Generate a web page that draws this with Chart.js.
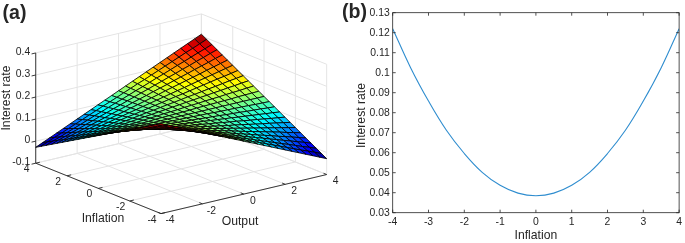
<!DOCTYPE html>
<html>
<head>
<meta charset="utf-8">
<title>Interest rate surface and slice</title>
<script src="https://cdn.jsdelivr.net/npm/chart.js@4/dist/chart.umd.min.js"></script>
<style>
  body { margin: 0; background: #fff; }
  canvas { position: absolute; top: 0; filter: blur(0.3px); }
  #surfaceChart { left: 0; }
  #sliceChart { left: 340px; }
</style>
</head>
<body>
<canvas id="surfaceChart" width="345" height="243"></canvas>
<canvas id="sliceChart" width="345" height="243"></canvas>
<script>
// Panel (a): mesh nodes, same for both horizontal axes
const meshNodes = [-4, -3.667, -3.333, -3, -2.667, -2.333, -2, -1.667, -1.333, -1, -0.667, -0.333, 0,
  0.333, 0.667, 1, 1.333, 1.667, 2, 2.333, 2.667, 3, 3.333, 3.667, 4];

// Interest rate: one row per inflation node, one column per output node
const surfaceRates = [
  [.308,.294,.28,.266,.252,.238,.224,.21,.196,.182,.168,.154,.14,.126,.112,.098,.084,.07,.056,.042,.028,.014,0,-.014,-.028],
  [.294,.281,.268,.256,.243,.23,.217,.204,.191,.178,.166,.153,.14,.127,.114,.102,.089,.076,.063,.05,.037,.024,.012,-.001,-.014],
  [.28,.268,.257,.245,.233,.222,.21,.198,.187,.175,.163,.152,.14,.128,.117,.105,.093,.082,.07,.058,.047,.035,.023,.012,0],
  [.266,.256,.245,.235,.224,.214,.203,.193,.182,.172,.161,.151,.14,.13,.119,.109,.098,.088,.077,.067,.056,.046,.035,.025,.014],
  [.252,.243,.233,.224,.215,.205,.196,.187,.177,.168,.159,.149,.14,.131,.121,.112,.103,.093,.084,.075,.065,.056,.047,.037,.028],
  [.238,.23,.222,.214,.205,.197,.189,.181,.173,.165,.156,.148,.14,.132,.124,.115,.107,.099,.091,.083,.075,.067,.058,.05,.042],
  [.224,.217,.21,.203,.196,.189,.182,.175,.168,.161,.154,.147,.14,.133,.126,.119,.112,.105,.098,.091,.084,.077,.07,.063,.056],
  [.21,.204,.198,.193,.187,.181,.175,.169,.163,.158,.152,.146,.14,.134,.128,.122,.117,.111,.105,.099,.093,.088,.082,.076,.07],
  [.196,.191,.187,.182,.177,.173,.168,.163,.159,.154,.149,.145,.14,.135,.131,.126,.121,.117,.112,.107,.103,.098,.093,.089,.084],
  [.182,.179,.175,.172,.168,.165,.161,.158,.154,.151,.147,.144,.14,.137,.133,.13,.126,.123,.119,.116,.112,.109,.105,.102,.098],
  [.168,.166,.163,.161,.159,.156,.154,.152,.149,.147,.145,.142,.14,.138,.135,.133,.131,.128,.126,.124,.121,.119,.117,.114,.112],
  [.154,.153,.152,.151,.149,.148,.147,.146,.145,.144,.142,.141,.14,.139,.138,.137,.135,.134,.133,.132,.131,.13,.128,.127,.126],
  [.14,.14,.14,.14,.14,.14,.14,.14,.14,.14,.14,.14,.14,.14,.14,.14,.14,.14,.14,.14,.14,.14,.14,.14,.14],
  [.126,.127,.128,.13,.131,.132,.133,.134,.135,.137,.138,.139,.14,.141,.142,.144,.145,.146,.147,.148,.149,.151,.152,.153,.154],
  [.112,.114,.117,.119,.121,.124,.126,.128,.131,.133,.135,.138,.14,.142,.145,.147,.149,.152,.154,.156,.159,.161,.163,.166,.168],
  [.098,.102,.105,.109,.112,.116,.119,.123,.126,.13,.133,.137,.14,.144,.147,.151,.154,.158,.161,.165,.168,.172,.175,.179,.182],
  [.084,.089,.093,.098,.103,.107,.112,.117,.121,.126,.131,.135,.14,.145,.149,.154,.159,.163,.168,.173,.177,.182,.187,.191,.196],
  [.07,.076,.082,.088,.093,.099,.105,.111,.117,.122,.128,.134,.14,.146,.152,.158,.163,.169,.175,.181,.187,.193,.198,.204,.21],
  [.056,.063,.07,.077,.084,.091,.098,.105,.112,.119,.126,.133,.14,.147,.154,.161,.168,.175,.182,.189,.196,.203,.21,.217,.224],
  [.042,.05,.058,.067,.075,.083,.091,.099,.107,.115,.124,.132,.14,.148,.156,.165,.173,.181,.189,.197,.205,.214,.222,.23,.238],
  [.028,.037,.047,.056,.065,.075,.084,.093,.103,.112,.121,.131,.14,.149,.159,.168,.177,.187,.196,.205,.215,.224,.233,.243,.252],
  [.014,.025,.035,.046,.056,.067,.077,.088,.098,.109,.119,.13,.14,.151,.161,.172,.182,.193,.203,.214,.224,.235,.245,.256,.266],
  [0,.012,.023,.035,.047,.058,.07,.082,.093,.105,.117,.128,.14,.152,.163,.175,.187,.198,.21,.222,.233,.245,.257,.268,.28],
  [-.014,-.001,.012,.024,.037,.05,.063,.076,.089,.102,.114,.127,.14,.153,.166,.178,.191,.204,.217,.23,.243,.256,.268,.281,.294],
  [-.028,-.014,0,.014,.028,.042,.056,.07,.084,.098,.112,.126,.14,.154,.168,.182,.196,.21,.224,.238,.252,.266,.28,.294,.308]
];

const inflationTicks3d = [4, 2, 0, -2, -4];
const outputTicks3d = [-4, -2, 0, 2, 4];
const rateTicks3d = [-0.1, 0, 0.1, 0.2, 0.3, 0.4];

// Panel (b)
const sliceInflation = [-4, -3.5, -3, -2.5, -2, -1.5, -1, -0.5, 0, 0.5, 1, 1.5, 2, 2.5, 3, 3.5, 4];
const sliceRate = [.122, .1025, .0858, .0712, .0596, .0502, .0437, .0398, .0385, .0398, .0437, .0502, .0596, .0712, .0858, .1025, .122];
const sliceRateTicks = ["0.03", "0.04", "0.05", "0.06", "0.07", "0.08", "0.09", "0.1", "0.11", "0.12", "0.13"];

const INK = "#262626";
const FONT = "'Liberation Sans', Arial, sans-serif";
const WALL = "#e4e4e4";

// Orthographic view of the box, in canvas units
const view = { x0: 161, y0: 213.6, xO: 20.71, yO: -4.88, xI: -15.66, yI: -6.3, yZ: -220.5 };

function project(inflation, output, rate) {
  return {
    x: view.x0 + (output + 4) * view.xO + (inflation + 4) * view.xI,
    y: view.y0 + (output + 4) * view.yO + (inflation + 4) * view.yI + (rate + 0.1) * view.yZ
  };
}

function jet(t) {
  const c = v => Math.round(255 * Math.min(1, Math.max(0, 1.5 - Math.abs(4 * t - v))));
  return `rgb(${c(3)},${c(2)},${c(1)})`;
}

function lineSet(points, color, width) {
  return { data: points, showLine: true, borderColor: color, borderWidth: width, pointRadius: 0, fill: false, clip: false };
}

function buildSurfaceDatasets() {
  const sets = [];
  const wall = (a, b) => sets.push(lineSet([project(...a), project(...b)], WALL, 1));

  // back walls and floor
  rateTicks3d.forEach(z => {
    wall([4, -4, z], [4, 4, z]);
    wall([4, 4, z], [-4, 4, z]);
  });
  outputTicks3d.forEach(o => {
    wall([4, o, -0.1], [4, o, 0.4]);
    wall([4, o, -0.1], [-4, o, -0.1]);
  });
  inflationTicks3d.forEach(i => {
    wall([i, 4, -0.1], [i, 4, 0.4]);
    wall([i, -4, -0.1], [i, 4, -0.1]);
  });

  // box axes and tick marks
  const axis = (a, b) => sets.push(lineSet([project(...a), project(...b)], INK, 0.9));
  axis([4, -4, -0.1], [4, -4, 0.4]);
  axis([4, -4, -0.1], [-4, -4, -0.1]);
  axis([-4, -4, -0.1], [-4, 4, -0.1]);
  rateTicks3d.forEach(z => axis([4, -4, z], [4, -4.2, z]));
  inflationTicks3d.forEach(i => axis([i, -4, -0.1], [i, -3.8, -0.1]));
  outputTicks3d.forEach(o => axis([-4, o, -0.1], [-3.8, o, -0.1]));

  // facets, far corner first so that nearer ones paint over them
  const flat = surfaceRates.flat();
  const zMin = Math.min(...flat);
  const zMax = Math.max(...flat);
  for (let i = meshNodes.length - 2; i >= 0; i--) {
    for (let o = meshNodes.length - 2; o >= 0; o--) {
      const corners = [[i, o], [i + 1, o], [i + 1, o + 1], [i, o + 1], [i, o]];
      const pts = corners.map(([a, b]) => project(meshNodes[a], meshNodes[b], surfaceRates[a][b]));
      const mean = (surfaceRates[i][o] + surfaceRates[i + 1][o] + surfaceRates[i + 1][o + 1] + surfaceRates[i][o + 1]) / 4;
      const fillColor = jet((mean - zMin) / (zMax - zMin));
      sets.push({
        data: pts, showLine: true, fill: "shape", backgroundColor: fillColor,
        borderColor: "rgba(0,0,0,0.88)", borderWidth: 0.95, pointRadius: 0, clip: false
      });
    }
  }
  // Chart.js paints the first dataset last
  return sets.reverse();
}

function putText(ctx, text, x, y, size, opts = {}) {
  ctx.save();
  ctx.fillStyle = INK;
  ctx.font = `${opts.bold ? "bold " : ""}${size}px ${FONT}`;
  ctx.textAlign = opts.align || "center";
  ctx.textBaseline = "middle";
  ctx.translate(x, y);
  if (opts.rotate) ctx.rotate(opts.rotate);
  ctx.fillText(text, 0, 0);
  ctx.restore();
}

const surfaceLabels = {
  id: "surfaceLabels",
  afterDraw(chart) {
    const { ctx } = chart;
    const sx = chart.scales.x;
    const sy = chart.scales.y;
    const at = (i, o, z) => {
      const p = project(i, o, z);
      return [sx.getPixelForValue(p.x), sy.getPixelForValue(p.y)];
    };
    rateTicks3d.forEach(z => {
      const [x, y] = at(4, -4, z);
      putText(ctx, String(z), x - 5.5, y - 0.8, 10.4, { align: "right" });
    });
    inflationTicks3d.forEach(i => {
      const [x, y] = at(i, -4, -0.1);
      putText(ctx, String(i), x - 9, y + 6.2, 10.4);
    });
    outputTicks3d.forEach(o => {
      const [x, y] = at(-4, o, -0.1);
      putText(ctx, String(o), x + 9, y + 7, 10.4);
    });
    putText(ctx, "Inflation", 103, 219, 12.2);
    putText(ctx, "Output", 240, 222, 12.2);
    putText(ctx, "Interest rate", 7, 98, 12.2, { rotate: -Math.PI / 2 });
    putText(ctx, "(a)", 14.5, 14, 19.6, { bold: true });
  }
};

new Chart(document.getElementById("surfaceChart"), {
  type: "scatter",
  data: { datasets: buildSurfaceDatasets() },
  options: {
    responsive: false,
    animation: false,
    events: [],
    layout: { padding: 0 },
    plugins: { legend: { display: false }, tooltip: { enabled: false } },
    scales: {
      x: { type: "linear", min: 0, max: 345, display: false },
      y: { type: "linear", min: 0, max: 243, reverse: true, display: false }
    }
  },
  plugins: [surfaceLabels]
});

// Box and inward ticks on all four sides, as the library only draws outward ones
const sliceFrame = {
  id: "sliceFrame",
  afterDraw(chart) {
    const { ctx, chartArea: a, scales } = chart;
    ctx.save();
    ctx.strokeStyle = INK;
    ctx.lineWidth = 0.8;
    ctx.strokeRect(a.left, a.top, a.right - a.left, a.bottom - a.top);
    ctx.beginPath();
    scales.x.ticks.forEach(t => {
      const x = scales.x.getPixelForValue(t.value);
      ctx.moveTo(x, a.bottom); ctx.lineTo(x, a.bottom - 3);
      ctx.moveTo(x, a.top); ctx.lineTo(x, a.top + 3);
    });
    scales.y.ticks.forEach(t => {
      const y = scales.y.getPixelForValue(t.value);
      ctx.moveTo(a.left, y); ctx.lineTo(a.left + 3, y);
      ctx.moveTo(a.right, y); ctx.lineTo(a.right - 3, y);
    });
    ctx.stroke();
    ctx.restore();
    putText(ctx, "Interest rate", 22, 115.5, 12.2, { rotate: -Math.PI / 2 });
    putText(ctx, "(b)", 14.5, 13, 19.6, { bold: true });
  }
};

new Chart(document.getElementById("sliceChart"), {
  type: "scatter",
  data: {
    datasets: [{
      data: sliceInflation.map((x, i) => ({ x, y: sliceRate[i] })),
      showLine: true,
      tension: 0.4,
      borderColor: "#2f8dcf",
      borderWidth: 1.1,
      pointRadius: 0
    }]
  },
  options: {
    responsive: false,
    animation: false,
    events: [],
    layout: { padding: { top: 12.7, right: 1.7 } },
    plugins: { legend: { display: false }, tooltip: { enabled: false } },
    scales: {
      x: {
        type: "linear", min: -4, max: 4,
        grid: { display: false, drawTicks: false },
        border: { display: false },
        ticks: { stepSize: 1, autoSkip: false, maxRotation: 0, color: INK, padding: 3, font: { family: FONT, size: 10.4 } },
        title: { display: true, text: "Inflation", color: INK, padding: 0, font: { family: FONT, size: 12.2 } },
        afterFit(scale) { scale.height = 30.3; }
      },
      y: {
        type: "linear", min: 0.03, max: 0.13,
        grid: { display: false, drawTicks: false },
        border: { display: false },
        ticks: {
          stepSize: 0.01, autoSkip: false, color: INK, padding: 3, font: { family: FONT, size: 10.4 },
          callback: (v, i) => sliceRateTicks[i]
        },
        afterFit(scale) { scale.width = 52.7; }
      }
    }
  },
  plugins: [sliceFrame]
});
</script>
</body>
</html>
